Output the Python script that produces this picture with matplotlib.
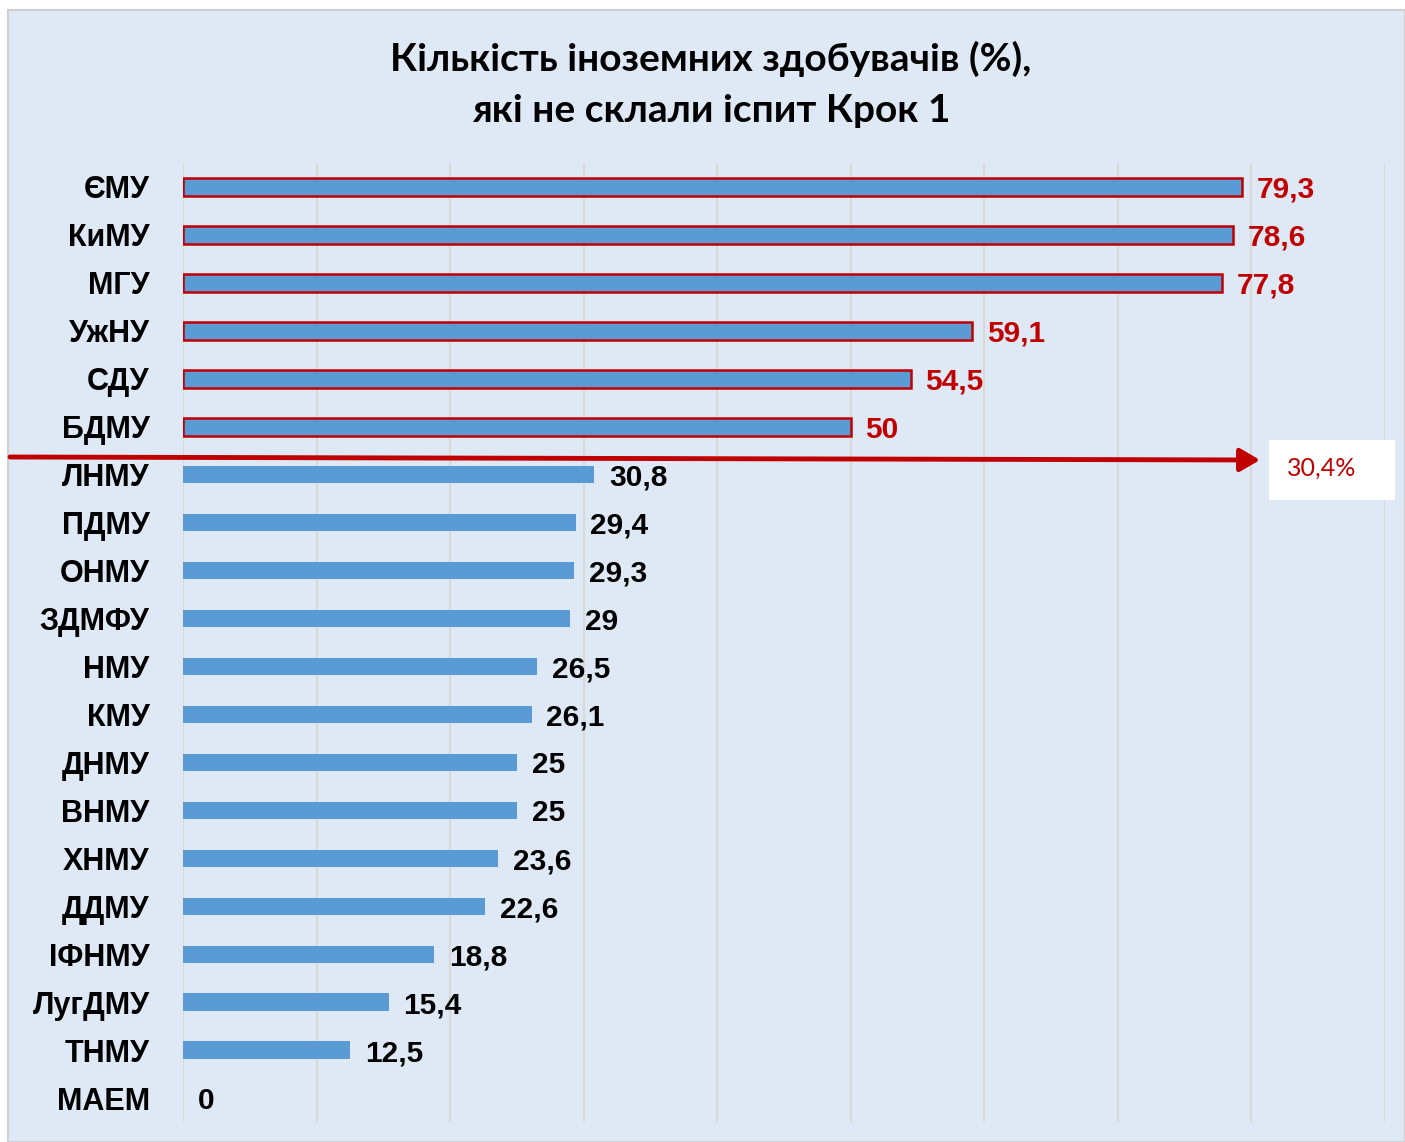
import numpy as np
import matplotlib
matplotlib.use('Agg')
import matplotlib.pyplot as plt
from matplotlib.patches import Rectangle, FancyArrowPatch

# Data (top to bottom as in the chart)
universities = ['ЄМУ', 'КиМУ', 'МГУ', 'УжНУ', 'СДУ', 'БДМУ', 'ЛНМУ', 'ПДМУ', 'ОНМУ', 'ЗДМФУ',
                'НМУ', 'КМУ', 'ДНМУ', 'ВНМУ', 'ХНМУ', 'ДДМУ', 'ІФНМУ', 'ЛугДМУ', 'ТНМУ', 'МАЕМ']
fail_pct = [79.3, 78.6, 77.8, 59.1, 54.5, 50, 30.8, 29.4, 29.3, 29,
            26.5, 26.1, 25, 25, 23.6, 22.6, 18.8, 15.4, 12.5, 0]
highlighted = [True] * 6 + [False] * 14
average_pct = 30.4

title = 'Кількість іноземних здобувачів (%),\nякі не склали іспит Крок 1'

blue = '#5b9bd5'
red = '#c00000'
panel = '#dee9f5'
narrow = ['Liberation Sans Narrow', 'Liberation Sans', 'DejaVu Sans']

fig = plt.figure(figsize=(14.05, 11.42), dpi=100, facecolor='white')
# light blue chart area
fig.patches.append(Rectangle((8/1405, 0), 1 - 8/1405, 1 - 10/1142, transform=fig.transFigure,
                             facecolor=panel, edgecolor='#d0d0d0', linewidth=1.5, zorder=-5))

ax = fig.add_axes([183/1405, 1 - 1122/1142, 1202/1405, 959/1142])
ax.set_facecolor('none')

y = np.arange(len(universities))
for i, (v, hl) in enumerate(zip(fail_pct, highlighted)):
    if hl:
        ax.barh(i, v, height=0.38, color=blue, edgecolor=red, linewidth=1.8, zorder=3)
    else:
        ax.barh(i, v, height=0.36, color=blue, edgecolor='none', zorder=3)
    lbl = ('%g' % v).replace('.', ',')
    ax.text(v + 1.1, i, lbl, ha='left', va='center_baseline', fontsize=21.5, fontweight='bold',
            color=red if hl else 'black', family=narrow, zorder=4)

ax.set_xlim(0, 90)
ax.set_ylim(len(universities) - 0.5, -0.5)
ax.set_xticks(np.arange(0, 91, 10))
ax.set_xticklabels([])
ax.set_yticks(y)
ax.set_yticklabels(universities, fontsize=22, fontweight='bold', family=narrow,
                   va='center_baseline')
ax.tick_params(axis='both', length=0)
ax.tick_params(axis='y', pad=24)
ax.grid(axis='x', color='#d9d9d9', linewidth=1.6, zorder=0)
ax.set_axisbelow(True)
for s in ax.spines.values():
    s.set_visible(False)

# threshold arrow and average label
fig.add_artist(FancyArrowPatch(
    (10/1405, 1 - 457/1142), (1260/1405, 1 - 460/1142), transform=fig.transFigure,
    arrowstyle='-|>,head_length=12,head_width=7', color=red, linewidth=3.5,
    shrinkA=0, shrinkB=0, zorder=6))
fig.add_artist(Rectangle((1269/1405, 1 - 500/1142), 126/1405, 60/1142,
                         transform=fig.transFigure, facecolor='white', edgecolor='none',
                         zorder=6))
fig.text(1322/1405, 1 - 468/1142, ('%g' % average_pct).replace('.', ',') + '%',
         ha='center', va='center', fontsize=18, color=red, family=['Lato', 'DejaVu Sans'],
         zorder=7)

fig.text(711/1405, 1 - 84/1142, title, ha='center', va='center', fontsize=28,
         fontweight='bold', family=['Lato', 'DejaVu Sans'], linespacing=1.55)

fig.savefig('out.png', dpi=100, facecolor='white')
